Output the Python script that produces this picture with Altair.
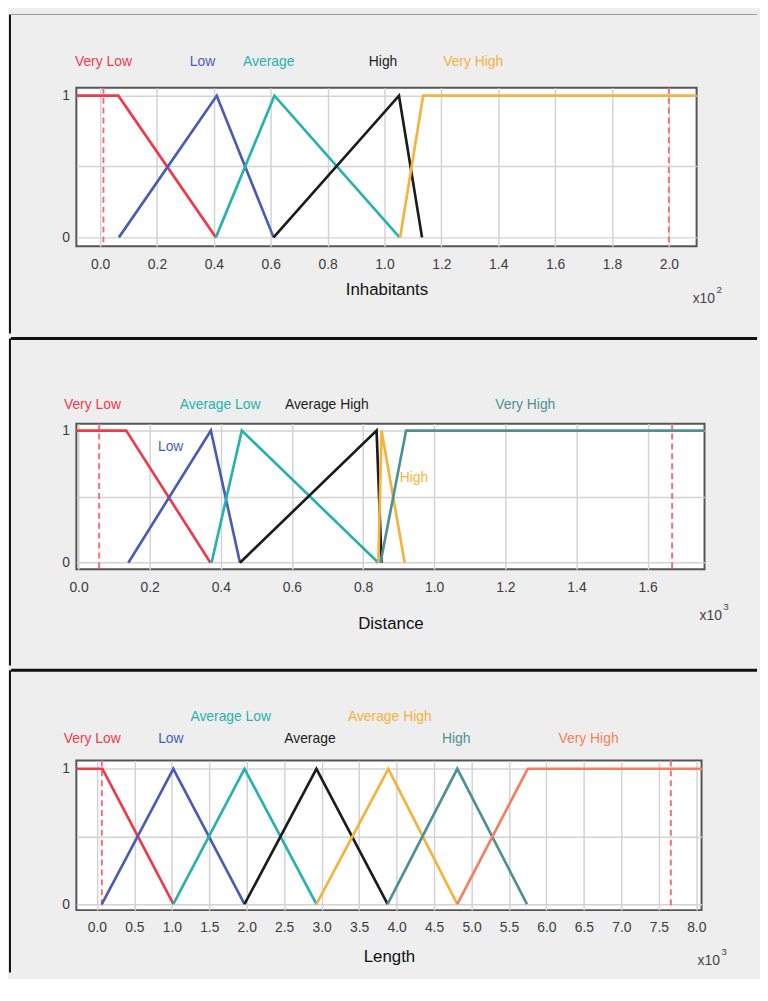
import altair as alt
import pandas as pd

BG = "#eeeeee"
FONT = "Liberation Sans"

# ---------------- Panel 1 : Inhabitants (x10^2) ----------------
inh_sets = ["Very Low", "Low", "Average", "High", "Very High"]
inh_colors = ["#ee3b4b", "#4b5cb4", "#27b2ad", "#1c1c1c", "#f5b23c"]
inh_x = [[-0.3, 0.064, 0.407], [0.066, 0.41, 0.61], [0.407, 0.613, 1.053],
         [0.61, 1.051, 1.132], [1.055, 1.136, 2.4]]
inh_mu = [[1, 1, 0], [0, 1, 0], [0, 1, 0], [0, 1, 0], [0, 1, 1]]
inh_bounds = [0.0115, 2.0]
inh_label_x = [0.0115, 0.36, 0.593, 0.995, 1.312]
inh_label_row = [1, 1, 1, 1, 1]
inh_ticks = [0.0, 0.2, 0.4, 0.6, 0.8, 1.0, 1.2, 1.4, 1.6, 1.8, 2.0]

# ---------------- Panel 2 : Distance (x10^3) ----------------
dist_sets = ["Very Low", "Low", "Average Low", "Average High", "High", "Very High"]
dist_colors = ["#ee3b4b", "#4b5cb4", "#27b2ad", "#1c1c1c", "#f5b23c", "#4f9095"]
dist_x = [[-0.3, 0.134, 0.371], [0.14, 0.372, 0.454], [0.374, 0.459, 0.843],
          [0.454, 0.838, 0.852], [0.843, 0.852, 0.917], [0.849, 0.921, 2.0]]
dist_mu = [[1, 1, 0], [0, 1, 0], [0, 1, 0], [0, 1, 0], [0, 1, 0], [0, 1, 1]]
dist_bounds = [0.058, 1.669]
dist_label_x = [0.039, 0.259, 0.398, 0.698, 0.943, 1.256]
dist_label_row = [1, 0, 1, 1, 0, 1]          # 0 = inside the plot
dist_label_mu = [None, 0.875, None, None, 0.638, None]
dist_ticks = [0.0, 0.2, 0.4, 0.6, 0.8, 1.0, 1.2, 1.4, 1.6]

# ---------------- Panel 3 : Length (x10^3) ----------------
len_sets = ["Very Low", "Low", "Average Low", "Average", "Average High", "High", "Very High"]
len_colors = ["#ee3b4b", "#4b5cb4", "#27b2ad", "#1c1c1c", "#f5b23c", "#4f9095", "#f47e60"]
len_x = [[-0.6, 0.074, 1.022], [0.066, 1.02, 1.97], [1.02, 1.97, 2.93], [1.97, 2.93, 3.88],
         [2.93, 3.89, 4.81], [3.88, 4.81, 5.74], [4.81, 5.75, 8.6]]
len_mu = [[1, 1, 0], [0, 1, 0], [0, 1, 0], [0, 1, 0], [0, 1, 0], [0, 1, 0], [0, 1, 1]]
len_bounds = [0.066, 7.66]
len_label_x = [-0.062, 0.987, 1.786, 2.843, 3.909, 4.795, 6.562]
len_label_row = [2, 2, 1, 2, 1, 2, 2]
len_ticks = [0.0, 0.5, 1.0, 1.5, 2.0, 2.5, 3.0, 3.5, 4.0, 4.5, 5.0, 5.5, 6.0, 6.5, 7.0, 7.5, 8.0]


def panel(sets, colors, xs, mus, bounds, label_x, label_row, ticks, xdom, ydom,
          W, H, title, exponent, row_y, lab_pad, title_pad, exp_xy,
          top, bottom, sep_color, sep_w, label_mu=None):
    rows = []
    for s, xv, mv in zip(sets, xs, mus):
        for i, (x, m) in enumerate(zip(xv, mv)):
            rows.append({"set": s, "x": x, "mu": m, "i": i})
    df = pd.DataFrame(rows)
    lab = pd.DataFrame({"set": sets, "x": label_x, "row": label_row,
                        "mu": label_mu if label_mu else [None] * len(sets)})

    xs_ = alt.Scale(domain=xdom, nice=False, zero=False)
    ys_ = alt.Scale(domain=ydom, nice=False, zero=False)
    cs = alt.Scale(domain=sets, range=colors)

    xaxis = alt.Axis(values=ticks, format=".1f", title=title, grid=True,
                     labelPadding=lab_pad, titlePadding=title_pad, labelFlush=False,
                     labelOverlap=False, labelSeparation=0, labelBound=False)
    yaxis = alt.Axis(values=[0, 0.5, 1], title=None, grid=True, labelFontSize=14,
                     labelExpr="datum.value == 0.5 ? '' : format(datum.value, 'd')",
                     labelPadding=7)

    dashed = alt.Chart(pd.DataFrame({"b": bounds})).mark_rule(
        color="#f26f7c", strokeDash=[6, 4], strokeWidth=2
    ).encode(x=alt.X("b:Q", scale=xs_, axis=xaxis))

    lines = alt.Chart(df).mark_line(strokeWidth=2.7, clip=True).encode(
        x=alt.X("x:Q", scale=xs_, axis=xaxis),
        y=alt.Y("mu:Q", scale=ys_, axis=yaxis),
        color=alt.Color("set:N", scale=cs, legend=None),
        detail="set:N",
        order="i:O",
    )

    layers = [dashed, lines]
    for r, yv in row_y.items():
        layers.append(
            alt.Chart(lab).transform_filter(alt.datum.row == r).mark_text(
                font=FONT, fontSize=14, baseline="middle", align="center"
            ).encode(
                x=alt.X("x:Q", scale=xs_, axis=xaxis),
                y=alt.value(yv),
                text="set:N",
                color=alt.Color("set:N", scale=cs, legend=None),
            )
        )
    if label_mu:
        layers.append(
            alt.Chart(lab).transform_filter(alt.datum.row == 0).mark_text(
                font=FONT, fontSize=14, baseline="middle", align="center"
            ).encode(
                x=alt.X("x:Q", scale=xs_, axis=xaxis),
                y=alt.Y("mu:Q", scale=ys_, axis=yaxis),
                text="set:N",
                color=alt.Color("set:N", scale=cs, legend=None),
            )
        )

    one = pd.DataFrame({"k": [0]})
    # exponent marker
    layers.append(alt.Chart(one).mark_text(font=FONT, fontSize=14, align="left",
                                           baseline="middle", color="#444444").encode(
        x=alt.value(exp_xy[0]), y=alt.value(exp_xy[1]), text=alt.value("x10")))
    layers.append(alt.Chart(one).mark_text(font=FONT, fontSize=10, align="left",
                                           baseline="middle", color="#444444").encode(
        x=alt.value(exp_xy[0] + 24), y=alt.value(exp_xy[1] - 9), text=alt.value(exponent)))
    # panel frame: top separator, left border, bottom marker
    layers.append(alt.Chart(one).mark_rule(color=sep_color, strokeWidth=sep_w).encode(
        x=alt.value(-66), x2=alt.value(687), y=alt.value(top)))
    layers.append(alt.Chart(one).mark_rule(color="#111111", strokeWidth=2).encode(
        x=alt.value(-67), y=alt.value(top), y2=alt.value(bottom)))
    layers.append(alt.Chart(one).mark_rule(color=BG, strokeWidth=1).encode(
        x=alt.value(-66), x2=alt.value(687), y=alt.value(bottom)))

    return alt.layer(*layers).properties(width=W, height=H)


p1 = panel(inh_sets, inh_colors, inh_x, inh_mu, inh_bounds, inh_label_x, inh_label_row,
           inh_ticks, [-0.0836, 2.0976], [-0.063, 1.056], 626, 160, "Inhabitants", "2",
           {1: -26}, 11, 11, (622, 213), -74, 248, "#9a9a9a", 1)
p2 = panel(dist_sets, dist_colors, dist_x, dist_mu, dist_bounds, dist_label_x, dist_label_row,
           dist_ticks, [-0.0061, 1.760], [-0.05, 1.0525], 634, 147, "Distance", "3",
           {1: -19}, 11, 22, (629, 194), -86, 244, "#111111", 3, label_mu=dist_label_mu)
p3 = panel(len_sets, len_colors, len_x, len_mu, len_bounds, len_label_x, len_label_row,
           len_ticks, [-0.274, 8.07], [-0.044, 1.061], 631, 151, "Length", "3",
           {1: -44, 2: -22}, 11, 14, (627, 202), -91, 214, "#111111", 3)

chart = alt.vconcat(p1, p2, p3, spacing=0).resolve_scale(
    x="independent", y="independent", color="independent"
).configure(background=BG, padding=0).configure_view(
    fill="white", stroke="#555555", strokeWidth=2
).configure_axis(
    labelFont=FONT, labelFontSize=14, labelColor="#3c3c3c",
    domain=False, ticks=False, gridColor="#d3d3d3", gridWidth=1.5,
    titleFont=FONT, titleFontSize=17, titleFontWeight="normal", titleColor="#111111",
).configure_axisX(labelOverlap=False)

chart.save("out.html", embed_options={"renderer": "svg", "actions": False})
